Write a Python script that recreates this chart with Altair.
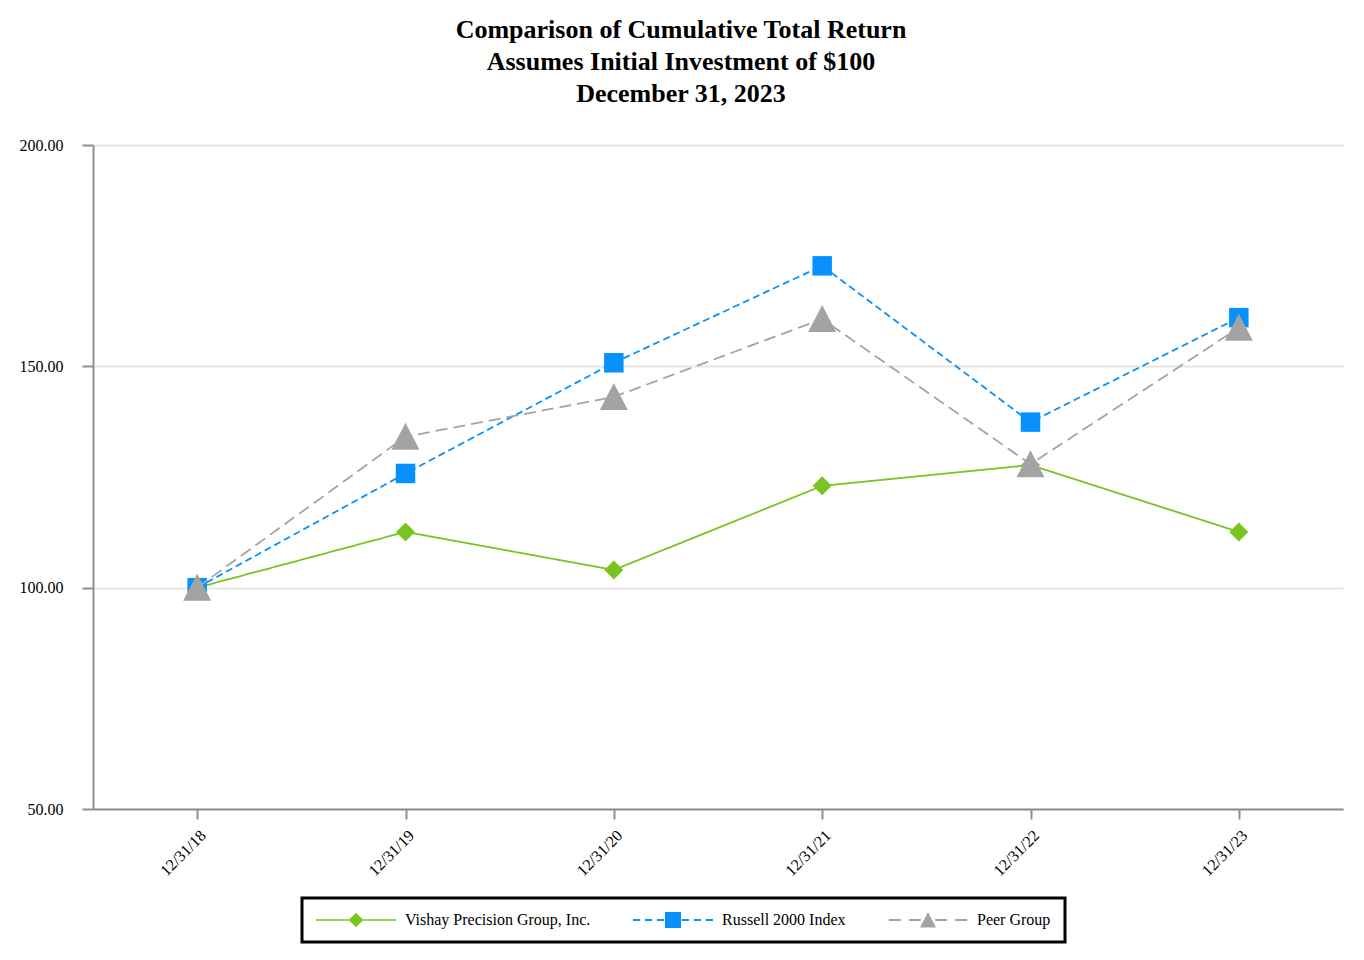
import altair as alt
import pandas as pd

dates = ["12/31/18", "12/31/19", "12/31/20", "12/31/21", "12/31/22", "12/31/23"]
series_names = ["Vishay Precision Group, Inc.", "Russell 2000 Index", "Peer Group"]
vishay = [100.0, 112.6, 104.0, 123.0, 127.7, 112.6]
russell = [100.0, 125.8, 150.8, 172.7, 137.4, 161.0]
peer = [100.0, 134.1, 143.1, 160.7, 127.9, 158.7]
y_ticks = [50, 100, 150, 200]

colors = ["#7AC41F", "#0891FA", "#A3A3A3"]
dashes = [[1, 0], [7, 4], [12, 6]]
marker_shapes = ["diamond", "square", "M0,-1L1,0.93L-1,0.93Z"]
marker_sizes = [361, 380, 784]

legend_paths = [
    "M-5,-0.1H5V0.1H-5Z M0,-0.9L0.9,0L0,0.9L-0.9,0Z",
    "M-5,-0.12H-4.1V0.12H-5Z M-3.5,-0.12H-2.6V0.12H-3.5Z M-2,-0.12H-1.1V0.12H-2Z "
    "M1.1,-0.12H2V0.12H1.1Z M2.6,-0.12H3.5V0.12H2.6Z M4.1,-0.12H5V0.12H4.1Z "
    "M-1,-1H1V1H-1Z",
    "M-4.9,-0.12H-3.4V0.12H-4.9Z M-2.4,-0.12H-0.9V0.12H-2.4Z "
    "M0.9,-0.12H2.4V0.12H0.9Z M3.4,-0.12H4.9V0.12H3.4Z "
    "M0,-1L1,0.95L-1,0.95Z",
]

rows = []
for name, vals in zip(series_names, [vishay, russell, peer]):
    for d, v in zip(dates, vals):
        rows.append({"date": d, "value": v, "series": name})
df = pd.DataFrame(rows)

FONT = "Liberation Serif"
AXIS_GREY = "#8f8f8f"

x_enc = alt.X(
    "date:O",
    sort=dates,
    scale=alt.Scale(type="point", padding=0.5),
    axis=alt.Axis(
        title=None,
        labelAngle=315,
        labelFont=FONT,
        labelFontSize=16,
        labelColor="black",
        labelPadding=8,
        tickSize=10,
        tickColor=AXIS_GREY,
        tickWidth=2,
        domainColor=AXIS_GREY,
        domainWidth=2,
        grid=False,
    ),
)
y_enc = alt.Y(
    "value:Q",
    scale=alt.Scale(domain=[50, 200], nice=False, zero=False),
    axis=alt.Axis(
        title=None,
        values=y_ticks,
        format=".2f",
        labelFont=FONT,
        labelFontSize=16,
        labelColor="black",
        labelPadding=19,
        tickSize=11,
        tickColor=AXIS_GREY,
        tickWidth=2,
        domainColor=AXIS_GREY,
        domainWidth=2,
        grid=True,
        gridColor="#e6e6e6",
        gridWidth=2,
    ),
)

base = alt.Chart(df).encode(x=x_enc, y=y_enc)

layers = []
for i, name in enumerate(series_names):
    sub = base.transform_filter(alt.datum.series == name)
    layers.append(
        sub.mark_line(color=colors[i], strokeWidth=1.8, strokeDash=dashes[i])
    )
    layers.append(
        sub.mark_point(
            filled=True,
            opacity=1,
            shape=marker_shapes[i],
            size=marker_sizes[i],
            color=colors[i],
        )
    )

legend_layer = (
    base.transform_filter("false")
    .mark_point(filled=True, opacity=1, size=256)
    .encode(
        fill=alt.Fill(
            "series:N",
            scale=alt.Scale(domain=series_names, range=colors),
            legend=alt.Legend(title=None),
        ),
        shape=alt.Shape(
            "series:N",
            scale=alt.Scale(domain=series_names, range=legend_paths),
            legend=alt.Legend(title=None),
        ),
    )
)
layers.append(legend_layer)

chart = (
    alt.layer(*layers)
    .properties(
        width=1250,
        height=664,
        padding={"left": 11, "top": 9, "right": 10, "bottom": 5},
        title=alt.TitleParams(
            text=[
                "Comparison of Cumulative Total Return",
                "Assumes Initial Investment of $100",
                "December 31, 2023",
            ],
            font=FONT,
            fontSize=26,
            fontWeight="bold",
            lineHeight=32,
            color="black",
            anchor="middle",
            frame="bounds",
            offset=30,
        ),
    )
    .configure_view(stroke=None)
    .configure_legend(
        orient="none",
        legendX=209,
        legendY=753,
        direction="horizontal",
        columns=3,
        columnPadding=42,
        labelFont=FONT,
        labelFontSize=16,
        labelColor="black",
        labelLimit=400,
        symbolSize=256,
        symbolOffset=32,
        labelOffset=41,
        symbolStrokeWidth=0,
        strokeColor="black",
        strokeWidth=3,
        padding=14,
        fillColor="white",
    )
)

chart.save("out.html", embed_options={"renderer": "svg", "actions": False})
